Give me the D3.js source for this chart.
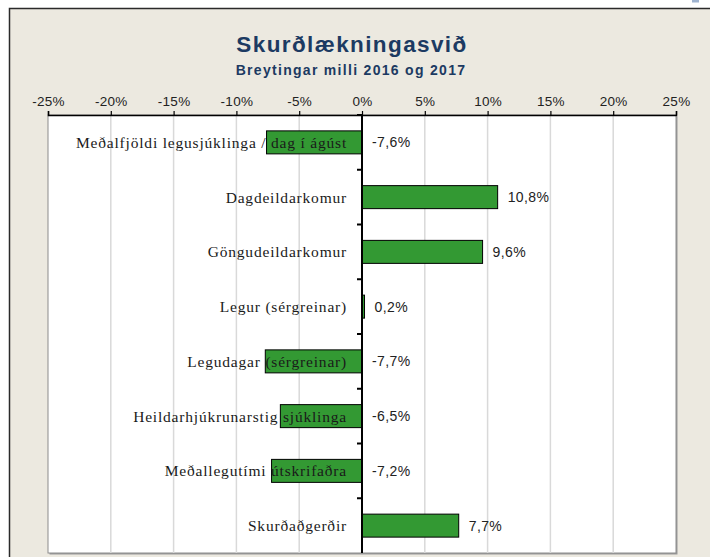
<!DOCTYPE html>
<html>
<head>
<meta charset="utf-8">
<script src="https://cdn.jsdelivr.net/npm/d3@7"></script>
<style>
  html, body { margin: 0; padding: 0; background: #ffffff; }
  svg { display: block; }
</style>
</head>
<body>
<svg id="chart" width="710" height="557"></svg>
<script>
// Changes between 2016 and 2017 for the surgical division
const categories = [
  "Meðalfjöldi legusjúklinga / dag í ágúst",
  "Dagdeildarkomur",
  "Göngudeildarkomur",
  "Legur (sérgreinar)",
  "Legudagar (sérgreinar)",
  "Heildarhjúkrunarstig sjúklinga",
  "Meðallegutími útskrifaðra",
  "Skurðaðgerðir"
];
const changes = [-7.6, 10.8, 9.6, 0.2, -7.7, -6.5, -7.2, 7.7];
const tickValues = [-25, -20, -15, -10, -5, 0, 5, 10, 15, 20, 25];
const title = "Skurðlækningasvið";
const subtitle = "Breytingar milli 2016 og 2017";

const svg = d3.select("#chart");
const W = 710, H = 557;
const plot = { left: 48, right: 676, top: 115, bottom: 553 };
const sans = "Arial, 'Liberation Sans', sans-serif";
const pct = v => (v < 0 ? "-" : "") + Math.abs(v).toFixed(1).replace(".", ",") + "%";

// outer chart area with frame
svg.append("rect").attr("x", 0).attr("y", 0).attr("width", W).attr("height", H).attr("fill", "#ffffff");
svg.append("rect").attr("x", 9.5).attr("y", 8.5).attr("width", W + 20).attr("height", H + 20)
  .attr("fill", "#ECE9E0").attr("stroke", "#2a2a2a").attr("stroke-width", 1.5);
svg.append("rect").attr("x", 692).attr("y", 0).attr("width", 7).attr("height", 2.5).attr("fill", "#9fb3d0");

const x = d3.scaleLinear().domain([-25, 25]).range([plot.left, plot.right]);
const y = d3.scaleBand().domain(categories).range([plot.top, plot.bottom]).paddingInner(0.58).paddingOuter(0.29);

// plot area with a soft shadow on the right and bottom
svg.append("rect").attr("x", plot.left + 1.5).attr("y", plot.top + 1.5)
  .attr("width", plot.right - plot.left).attr("height", plot.bottom - plot.top)
  .attr("fill", "#9a9a9a");
svg.append("rect").attr("x", plot.left).attr("y", plot.top)
  .attr("width", plot.right - plot.left).attr("height", plot.bottom - plot.top)
  .attr("fill", "#ffffff").attr("stroke", "#8c8c8c").attr("stroke-width", 1);

// vertical gridlines
svg.append("g").selectAll("line").data(tickValues.filter(d => d !== -25 && d !== 25 && d !== 0)).join("line")
  .attr("x1", d => x(d)).attr("x2", d => x(d))
  .attr("y1", plot.top).attr("y2", plot.bottom)
  .attr("stroke", "#d9d9d9").attr("stroke-width", 1.5);

// top axis
const axisTop = d3.axisTop(x).tickValues(tickValues).tickSize(4).tickPadding(5)
  .tickFormat(d => d + "%");
const gx = svg.append("g").attr("transform", `translate(0,${plot.top})`).call(axisTop);
gx.select(".domain").attr("stroke", "#000").attr("stroke-width", 1.5);
gx.selectAll(".tick line").attr("stroke", "#000").attr("stroke-width", 1.2);
gx.selectAll(".tick text").attr("font-family", sans)
  .attr("font-size", 13.5).attr("letter-spacing", 0.3).attr("fill", "#222");

// bars
svg.append("g").selectAll("rect").data(categories).join("rect")
  .attr("x", (d, i) => x(Math.min(0, changes[i])))
  .attr("y", d => y(d))
  .attr("width", (d, i) => Math.abs(x(changes[i]) - x(0)))
  .attr("height", y.bandwidth())
  .attr("fill", "#339933").attr("stroke", "#000").attr("stroke-width", 1);

// zero axis with ticks between categories
svg.append("line").attr("x1", x(0)).attr("x2", x(0)).attr("y1", plot.top - 1).attr("y2", plot.bottom)
  .attr("stroke", "#000").attr("stroke-width", 2);
const step = y.step();
const bounds = d3.range(0, categories.length).map(i => plot.top + i * step);
svg.append("g").selectAll("line").data(bounds).join("line")
  .attr("x1", x(0) - 5).attr("x2", x(0))
  .attr("y1", d => d).attr("y2", d => d)
  .attr("stroke", "#000").attr("stroke-width", 2);

// category labels
svg.append("g").selectAll("text").data(categories).join("text")
  .attr("x", x(0) - 15)
  .attr("y", d => y(d) + y.bandwidth() / 2)
  .attr("dy", "0.35em")
  .attr("text-anchor", "end")
  .attr("font-family", "'Liberation Serif', 'Times New Roman', serif")
  .attr("font-size", 15.5)
  .attr("letter-spacing", 0.8)
  .attr("fill", "#1a1a1a")
  .text(d => d);

// value labels
svg.append("g").selectAll("text").data(categories).join("text")
  .attr("x", (d, i) => x(Math.max(0, changes[i])) + 10)
  .attr("y", d => y(d) + y.bandwidth() / 2)
  .attr("dy", "0.35em")
  .attr("font-family", sans)
  .attr("font-size", 14)
  .attr("letter-spacing", 0.4)
  .attr("fill", "#222")
  .text((d, i) => pct(changes[i]));

// titles
svg.append("text").attr("x", 352).attr("y", 52).attr("text-anchor", "middle")
  .attr("font-family", sans).attr("font-weight", "bold")
  .attr("font-size", 22.5).attr("letter-spacing", 1.4).attr("fill", "#1C3A62").text(title);
svg.append("text").attr("x", 351).attr("y", 74.5).attr("text-anchor", "middle")
  .attr("font-family", sans).attr("font-weight", "bold")
  .attr("font-size", 14).attr("letter-spacing", 1.3).attr("fill", "#1C3A62").text(subtitle);
</script>
</body>
</html>
